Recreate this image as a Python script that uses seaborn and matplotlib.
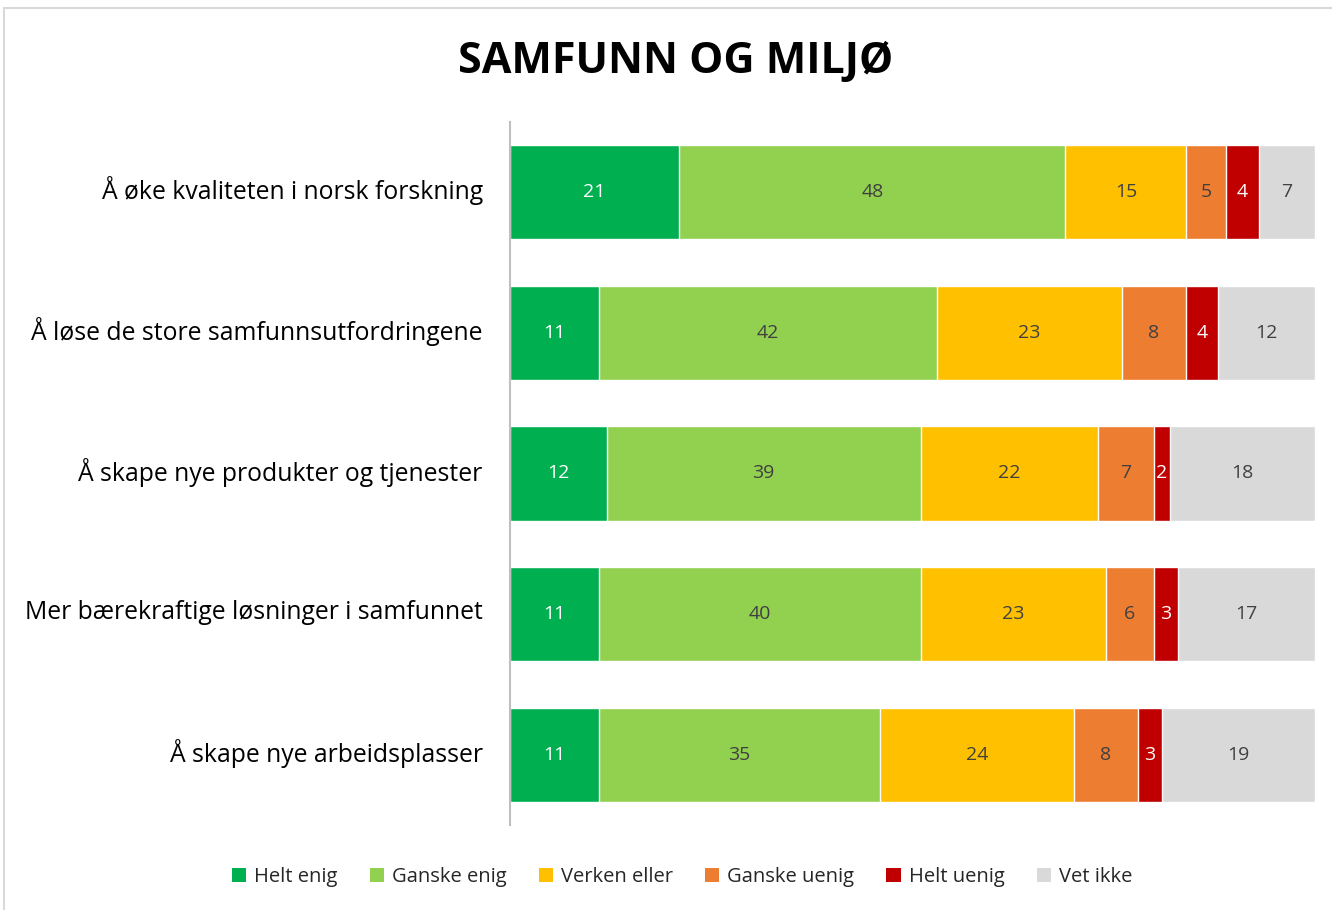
import pandas as pd
import matplotlib
matplotlib.use("Agg")
import matplotlib.pyplot as plt
from matplotlib.patches import Patch, Rectangle
import seaborn as sns

# Data
statements = [
    'Å øke kvaliteten i norsk forskning',
    'Å løse de store samfunnsutfordringene',
    'Å skape nye produkter og tjenester',
    'Mer bærekraftige løsninger i samfunnet',
    'Å skape nye arbeidsplasser',
]
answers = ['Helt enig', 'Ganske enig', 'Verken eller', 'Ganske uenig', 'Helt uenig', 'Vet ikke']
helt_enig = [21, 11, 12, 11, 11]
ganske_enig = [48, 42, 39, 40, 35]
verken_eller = [15, 23, 22, 23, 24]
ganske_uenig = [5, 8, 7, 6, 8]
helt_uenig = [4, 4, 2, 3, 3]
vet_ikke = [7, 12, 18, 17, 19]

colors = ['#00B050', '#92D050', '#FFC000', '#ED7D31', '#C00000', '#D9D9D9']
label_colors = ['white', '#404040', '#404040', '#404040', 'white', '#404040']

df = pd.DataFrame({
    'Påstand': statements,
    'Helt enig': helt_enig,
    'Ganske enig': ganske_enig,
    'Verken eller': verken_eller,
    'Ganske uenig': ganske_uenig,
    'Helt uenig': helt_uenig,
    'Vet ikke': vet_ikke,
})
cum = df[answers].cumsum(axis=1)

sns.set_style('white')
plt.rcParams['font.family'] = ['Open Sans', 'DejaVu Sans']

fig = plt.figure(figsize=(13.32, 9.10), dpi=100)
ax = fig.add_axes([510 / 1332, 1 - 825 / 910, 805 / 1332, 703 / 910])

# Stacked bars: draw cumulative totals from the last answer back to the first
for i in range(len(answers) - 1, -1, -1):
    sns.barplot(x=cum[answers[i]], y=df['Påstand'], orient='h', color=colors[i],
                width=0.67, edgecolor='white', linewidth=1, saturation=1, ax=ax)

# Value labels in the middle of each segment
for j in range(len(statements)):
    for i, a in enumerate(answers):
        val = df.loc[j, a]
        mid = cum.loc[j, a] - val / 2
        ax.text(mid, j, str(val), ha='center', va='center', fontsize=14,
                color=label_colors[i])

ax.set_xlim(0, 100)
ax.set_ylim(4.5, -0.5)
ax.set_xlabel('')
ax.set_ylabel('')
ax.set_xticks([])
ax.set_yticklabels([])
ax.tick_params(axis='y', length=0)

# category labels, placed a touch above bar centre like the original
for j, s in enumerate(statements):
    ax.text(-3.4, j - 0.01, s, ha='right', va='center', fontsize=17.8,
            color='black', clip_on=False)

for s in ['top', 'right', 'bottom']:
    ax.spines[s].set_visible(False)
ax.spines['left'].set_color('#BFBFBF')
ax.spines['left'].set_linewidth(1.5)

fig.text(676 / 1332, 1 - 62 / 910, 'SAMFUNN OG MILJØ', ha='center', va='center',
         fontsize=31, fontweight='bold', color='black')

handles = [Patch(facecolor=c, edgecolor='none') for c in colors]
fig.legend(handles, answers, loc='center', bbox_to_anchor=(682 / 1332, 1 - 877 / 910),
           ncol=6, frameon=False, fontsize=14.5, handlelength=0.7, handleheight=0.7,
           handletextpad=0.4, columnspacing=1.6)

# chart border
fig.patches.append(Rectangle((4 / 1332, -0.01), 1.02, 1 - 8 / 910 + 0.01,
                             transform=fig.transFigure, fill=False,
                             edgecolor='#D9D9D9', linewidth=1.5))

fig.savefig('out.png', dpi=100)
